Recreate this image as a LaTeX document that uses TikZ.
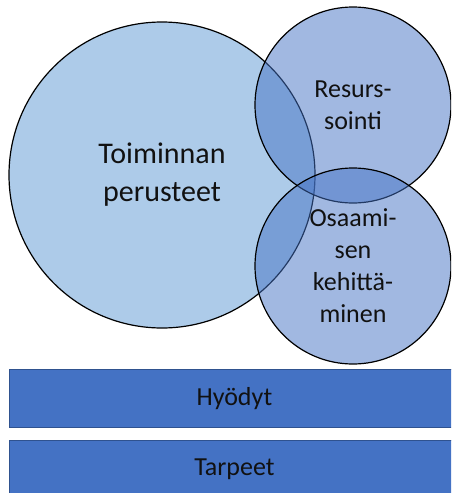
\documentclass[tikz,border=0pt]{standalone}
\usepackage{fontspec}
\setmainfont{Carlito}
\usetikzlibrary{positioning}
\definecolor{cvaalea}{HTML}{ADCBE9}
\definecolor{csini}{HTML}{4472C4}
\definecolor{csinib}{HTML}{2F528F}
\definecolor{cteksti}{HTML}{111111}
\tikzset{
  ympyra/.style={circle,draw=black,line width=1.2pt,inner sep=0pt,align=center,
                 text=cteksti,font=\fontsize{26}{32}\selectfont},
  isoympyra/.style={ympyra,fill=cvaalea,font=\fontsize{30}{38}\selectfont},
  pieniympyra/.style={ympyra,fill=csini,fill opacity=0.5,text opacity=1,draw opacity=1},
  palkki/.style={draw=csinib,fill=csini,line width=0.8pt,inner sep=0pt,text=cteksti,
                 minimum width=450pt,minimum height=58pt,anchor=north west,
                 font=\fontsize{26}{32}\selectfont},
}
\begin{document}
\begin{tikzpicture}[x=1pt,y=-1pt]
\useasboundingbox (0,0) rectangle (451,493);
\clip (0,0) rectangle (451,493);

\node[isoympyra,minimum size=306pt]  (perusteet) at (162,175) {Toiminnan\\perusteet};
\node[pieniympyra,minimum size=196pt] (resurssi)  at (353,105) {Resurs-\\sointi};
\node[pieniympyra,minimum size=196pt] (osaaminen) at (353,266) {Osaami-\\sen\\kehittä-\\minen};

\node[palkki] (hyodyt)  at (9,369) {Hyödyt};
\node[palkki] (tarpeet) at (9,440) {Tarpeet};

\end{tikzpicture}
\end{document}
